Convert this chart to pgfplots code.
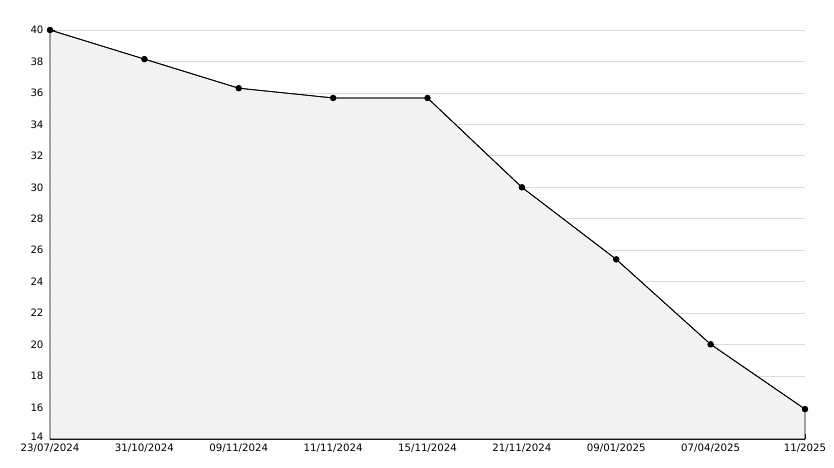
\documentclass[border=0pt]{standalone}
\usepackage{fontspec}
\setmainfont{DejaVu Sans}
\usepackage{pgfplots}
\pgfplotsset{compat=1.18}
\definecolor{fillgray}{HTML}{F2F2F2}
\definecolor{gridgray}{HTML}{DCDCDC}
\begin{document}
\begin{tikzpicture}
\useasboundingbox (0,0) rectangle (834bp,468bp);
\begin{axis}[
  at={(50bp,29bp)}, anchor=south west,
  scale only axis, width=755bp, height=409bp,
  xmin=0, xmax=8, ymin=14, ymax=40,
  axis x line*=bottom, axis y line*=left,
  axis line style={black, line width=0.8bp},
  xtick={0,...,8},
  xticklabels={23/07/2024,31/10/2024,09/11/2024,11/11/2024,15/11/2024,21/11/2024,09/01/2025,07/04/2025,11/2025},
  ytick={14,16,...,40},
  yticklabel={\ifnum\ticknum=0 \raisebox{4bp}{\axisdefaultticklabel}\else\axisdefaultticklabel\fi},
  minor y tick num=1,
  tick align=inside,
  major tick length=5bp, minor tick length=4bp,
  tick style={black, line width=0.8bp},
  ymajorgrids, major grid style={gridgray, line width=0.8bp},
  /pgf/number format/assume math mode=true,
  tick label style={font=\fontsize{10.2bp}{12bp}\selectfont},
  yticklabel style={xshift=-3bp},
  xticklabel style={yshift=-1.5bp},
  clip=false,
]
\addplot[fill=fillgray, draw=black, line width=0.8bp] coordinates {
(0,40) (1,38.15) (2,36.3) (3,35.68) (4,35.68) (5,30.0) (6,25.42) (7,20.02) (8,15.9)
} |- (axis cs:0,14) -- cycle;
\addplot[black, line width=0.8bp, mark=*, mark size=2.8bp] coordinates {
(0,40) (1,38.15) (2,36.3) (3,35.68) (4,35.68) (5,30.0) (6,25.42) (7,20.02) (8,15.9)
};
\end{axis}
\end{tikzpicture}
\end{document}
